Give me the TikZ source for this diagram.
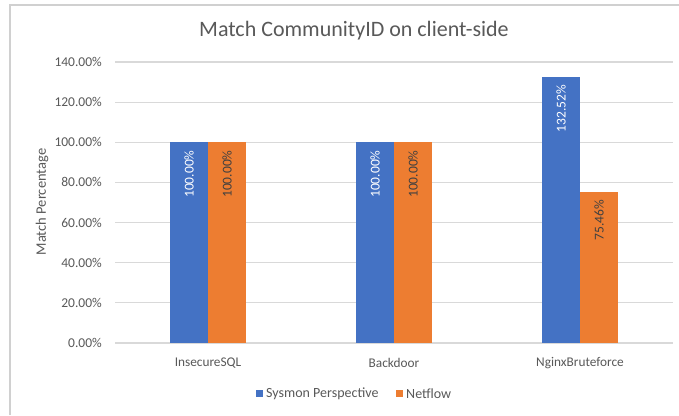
\documentclass[tikz,border=0pt]{standalone}
\usepackage{fontspec}
\setmainfont{Carlito}
\definecolor{txtgray}{HTML}{595959}
\definecolor{lblgray}{HTML}{404040}
\definecolor{gridgray}{HTML}{D9D9D9}
\definecolor{framegray}{HTML}{D0D0D0}
\definecolor{sysblue}{HTML}{4472C4}
\definecolor{netorange}{HTML}{ED7D31}
\tikzset{
  gridline/.style={draw=gridgray, line width=1.2pt},
  frameline/.style={draw=framegray, line width=1.5pt},
  ticklbl/.style={text=txtgray, font=\fontsize{13.5}{15}\selectfont, anchor=east, inner sep=0pt},
  catlbl/.style={text=txtgray, font=\fontsize{13.3}{15}\selectfont, inner sep=0pt},
  barlbl/.style={font=\fontsize{13.5}{15}\selectfont, rotate=90, anchor=east, inner sep=0pt},
  legendtxt/.style={text=txtgray, font=\fontsize{14}{16}\selectfont, anchor=west, inner sep=0pt},
}
\begin{document}
\begin{tikzpicture}[x=1pt,y=-1pt]
\useasboundingbox (0,0) rectangle (679,415);
\fill[white] (0,0) rectangle (679,415);
\draw[frameline] (10,415) -- (10,5) -- (679,5);
% title
\node[text=txtgray, font=\fontsize{22}{25}\selectfont, inner sep=0pt] (title) at (354,31) {Match CommunityID on client-side};
% axis title
\node[text=txtgray, font=\fontsize{14.5}{16}\selectfont, rotate=90, inner sep=0pt] (ytitle) at (42,202) {Match Percentage};
% gridlines and tick labels
\foreach \v in {0,20,...,140} {
  \pgfmathsetmacro{\yy}{343-\v*2.007}
  \draw[gridline] (115,\yy) -- (673,\yy);
  \node[ticklbl] (tick\v) at (102,\yy) {\v.00\%};
}
% bars
\foreach \c/\a/\b/\la/\lb/\n in {208/100/100/100.00/100.00/isql, 394/100/100/100.00/100.00/bd, 580/132.52/75.46/132.52/75.46/ngx} {
  \pgfmathsetmacro{\ta}{343-\a*2.007}
  \pgfmathsetmacro{\tb}{343-\b*2.007}
  \fill[sysblue] (\c-38,343) rectangle (\c,\ta);
  \fill[netorange] (\c,343) rectangle (\c+38,\tb);
  \node[barlbl, text=white] (la\n) at (\c-19,\ta+8) {\la\%};
  \node[barlbl, text=lblgray] (lb\n) at (\c+19,\tb+8) {\lb\%};
}
% category labels
\node[catlbl] (cat1) at (208,363) {InsecureSQL};
\node[catlbl] (cat2) at (394,363) {Backdoor};
\node[catlbl] (cat3) at (580,363) {NginxBruteforce};
% legend
\fill[sysblue] (256,390) rectangle (263,397);
\node[legendtxt] (leg1) at (266,393.5) {Sysmon Perspective};
\fill[netorange] (396,390) rectangle (403,397);
\node[legendtxt] (leg2) at (406,393.5) {Netflow};
\end{tikzpicture}
\end{document}
